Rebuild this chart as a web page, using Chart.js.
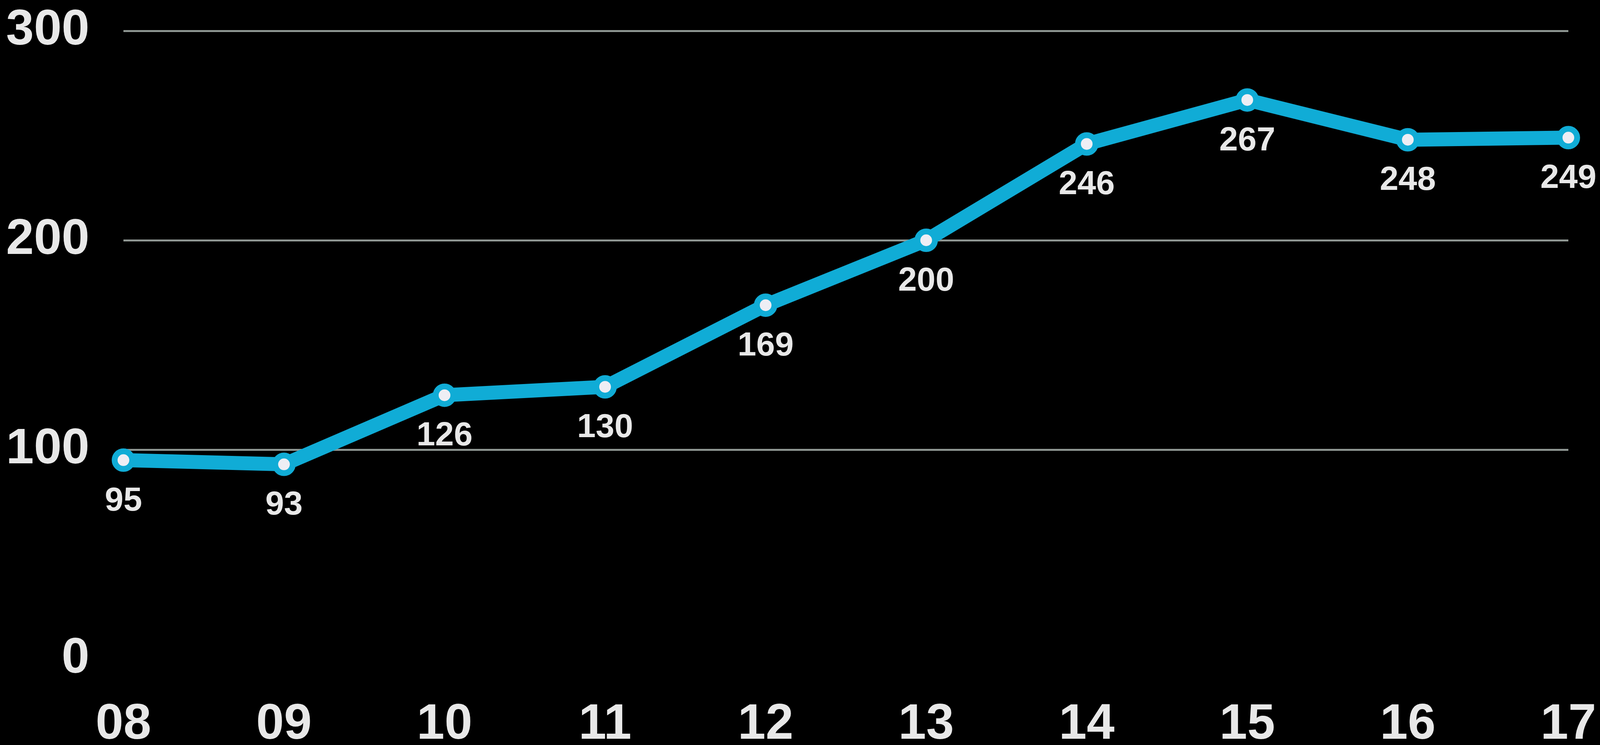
<!DOCTYPE html>
<html>
<head>
<meta charset="utf-8">
<script src="https://cdn.jsdelivr.net/npm/chart.js@4"></script>
<style>
  html, body { margin: 0; padding: 0; background: #000; overflow: hidden; }
  #wrap { width: 100vw; height: 1933px; position: relative; }
</style>
</head>
<body>
<div id="wrap"><canvas id="myLineChart"></canvas></div>
<script>
// values
let years = ['08', '09', '10', '11', '12', '13', '14', '15', '16', '17'],
    counts = [95, 93, 126, 130, 169, 200, 246, 267, 248, 249],
    yTicks = [0, 100, 200, 300]

let lineColor = '#10acd6',
    textColor = '#e8e8e8',
    fontFamily = '"Liberation Sans", Arial, Helvetica, sans-serif'

// value under every point
let valueLabels = {
    id: 'valueLabels',
    afterDatasetsDraw: function (chart) {
        let ctx = chart.ctx;
        let meta = chart.getDatasetMeta(0);
        ctx.save();
        ctx.fillStyle = textColor;
        ctx.font = 'bold 86px ' + fontFamily;
        ctx.textAlign = 'center';
        ctx.textBaseline = 'middle';
        for (let i = 0; i < meta.data.length; i++) {
            let pt = meta.data[i];
            ctx.fillText(String(counts[i]), pt.x, pt.y + 105);
        }
        ctx.restore();
    }
};

let ctx = document.getElementById('myLineChart');
new Chart(ctx, {
    type: 'line',
    data: {
        labels: years,
        datasets: [{
            data: counts,
            borderColor: lineColor,
            borderWidth: 36,
            tension: 0,
            pointRadius: 22.5,
            pointBorderWidth: 15,
            pointBorderColor: lineColor,
            pointBackgroundColor: '#eeeef4',
            pointHoverRadius: 22.5
        }]
    },
    options: {
        responsive: true,
        maintainAspectRatio: false,
        animation: false,
        devicePixelRatio: 1,
        layout: { autoPadding: false, padding: { left: 15, right: 81, top: 79, bottom: 0 } },
        plugins: {
            legend: { display: false },
            tooltip: { enabled: false },
            title: { display: false }
        },
        scales: {
            x: {
                offset: false,
                grid: { display: false, drawTicks: false },
                border: { display: false },
                ticks: {
                    color: textColor,
                    padding: 92,
                    maxRotation: 0,
                    font: { family: fontFamily, size: 128, weight: 'bold' }
                },
                afterFit: function (axis) {
                    axis.height = 246;
                    axis.paddingLeft = 0;
                    axis.paddingRight = 0;
                }
            },
            y: {
                min: 0,
                max: 300,
                afterBuildTicks: function (axis) {
                    axis.ticks = yTicks.map(function (v) { return { value: v }; });
                },
                grid: {
                    drawTicks: false,
                    lineWidth: 5,
                    color: function (c) {
                        return c.tick && c.tick.value === 0 ? 'rgba(0,0,0,0)' : '#8e9692';
                    }
                },
                border: { display: false },
                ticks: {
                    color: textColor,
                    padding: 87,
                    font: { family: fontFamily, size: 128, weight: 'bold' }
                },
                afterFit: function (axis) {
                    axis.width = 301;
                    axis.paddingTop = 0;
                    axis.paddingBottom = 0;
                }
            }
        }
    },
    plugins: [valueLabels]
});
</script>
</body>
</html>
